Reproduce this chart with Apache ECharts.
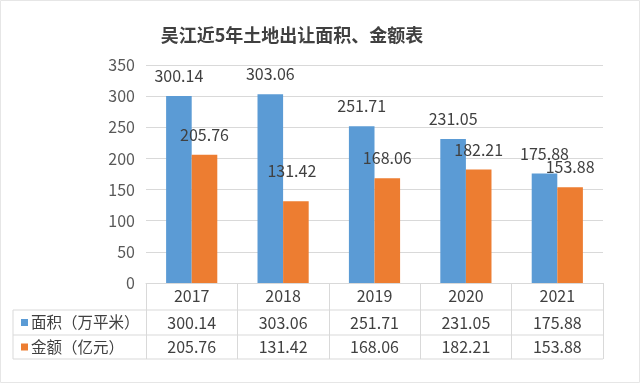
<!DOCTYPE html>
<html>
<head>
<meta charset="utf-8">
<script src="https://cdn.jsdelivr.net/npm/echarts@6/dist/echarts.min.js"></script>
<style>html,body{margin:0;padding:0;background:#fff}#c{width:640px;height:384px}</style>
</head>
<body>
<div id="c"></div>
<script>
const titleText = '吴江近5年土地出让面积、金额表';
const years = ['2017', '2018', '2019', '2020', '2021'];
const seriesNames = ['面积（万平米）', '金额（亿元）'];
const area = [300.14, 303.06, 251.71, 231.05, 175.88];
const amount = [205.76, 131.42, 168.06, 182.21, 153.88];
const yTicks = [0, 50, 100, 150, 200, 250, 300, 350];

const FONT = '"Noto Sans CJK SC", "Noto Sans", sans-serif';
const TXT = '#404040';
const LINE = '#d9d9d9';
const colors = ['#5B9BD5', '#ED7D31'];
const NUM = 16;

const chart = echarts.init(document.getElementById('c'), null, {renderer: 'canvas'});
const gridTop = 65, gridBottom = 101, gridLeft = 146, gridRight = 37;

const option = {
  animation: false,
  backgroundColor: '#fff',
  textStyle: {fontFamily: FONT},
  title: {
    text: titleText,
    left: 287, top: 21, textAlign: 'center',
    textStyle: {fontSize: 18, fontWeight: 'bold', color: '#404040', fontFamily: FONT}
  },
  grid: {left: gridLeft, right: gridRight, top: gridTop, bottom: gridBottom, containLabel: false},
  xAxis: {
    type: 'category', data: years,
    axisLine: {show: true, lineStyle: {color: LINE, width: 1}},
    axisTick: {show: true, length: 76, lineStyle: {color: LINE}},
    axisLabel: {fontSize: NUM, color: TXT, margin: 5, fontFamily: FONT}
  },
  yAxis: {
    type: 'value', min: yTicks[0], max: yTicks[yTicks.length - 1], interval: 50,
    axisLine: {show: false}, axisTick: {show: false},
    axisLabel: {fontSize: NUM, color: '#595959', margin: 11, fontFamily: FONT},
    splitLine: {lineStyle: {color: LINE, width: 1}}
  },
  series: [
    {
      name: seriesNames[0], type: 'bar', data: area, barGap: '0%', barCategoryGap: '44%',
      itemStyle: {color: colors[0]},
      label: {show: true, position: 'top', distance: 12, fontSize: NUM, color: TXT, fontFamily: FONT}
    },
    {
      name: seriesNames[1], type: 'bar',
      data: amount.map((v, i) => i === 1 ? {value: v, label: {distance: 22, offset: [-4, 0]}} : v),
      itemStyle: {color: colors[1]},
      label: {show: true, position: 'top', distance: 12, fontSize: NUM, color: TXT, fontFamily: FONT}
    }
  ]
};
chart.setOption(option);

// data table under the axis
const y0 = chart.convertToPixel({yAxisIndex: 0}, 0);
const rowLines = [y0 + 27, y0 + 52, y0 + 76];
const xL = 13;
const xR = chart.getWidth() - gridRight;
const g = [];
rowLines.forEach(y => g.push({type: 'line', shape: {x1: xL, y1: y, x2: xR, y2: y}, style: {stroke: LINE, lineWidth: 1}, silent: true}));
g.push({type: 'line', shape: {x1: xL, y1: rowLines[0], x2: xL, y2: rowLines[2]}, style: {stroke: LINE, lineWidth: 1}});
const rows = [area, amount];
rows.forEach((vals, r) => {
  const cy = (rowLines[r] + rowLines[r + 1]) / 2;
  g.push({type: 'rect', shape: {x: 21, y: cy - 3.5, width: 7, height: 7}, style: {fill: colors[r]}});
  g.push({type: 'text', x: 31, y: cy, style: {text: seriesNames[r], fontSize: 15.5, fill: TXT, fontFamily: FONT, textVerticalAlign: 'middle', verticalAlign: 'middle'}});
  vals.forEach((v, i) => {
    const cx = chart.convertToPixel({xAxisIndex: 0}, years[i]);
    g.push({type: 'text', x: cx, y: cy, style: {text: v.toFixed(2), fontSize: NUM, fill: TXT, fontFamily: FONT, align: 'center', textAlign: 'center', verticalAlign: 'middle', textVerticalAlign: 'middle'}});
  });
});
g.push({type: 'rect', shape: {x: 0.5, y: 0.5, width: 639, height: 382}, style: {fill: 'none', stroke: '#e6e6e6', lineWidth: 1}, silent: true});
chart.setOption({graphic: g});
</script>
</body>
</html>
